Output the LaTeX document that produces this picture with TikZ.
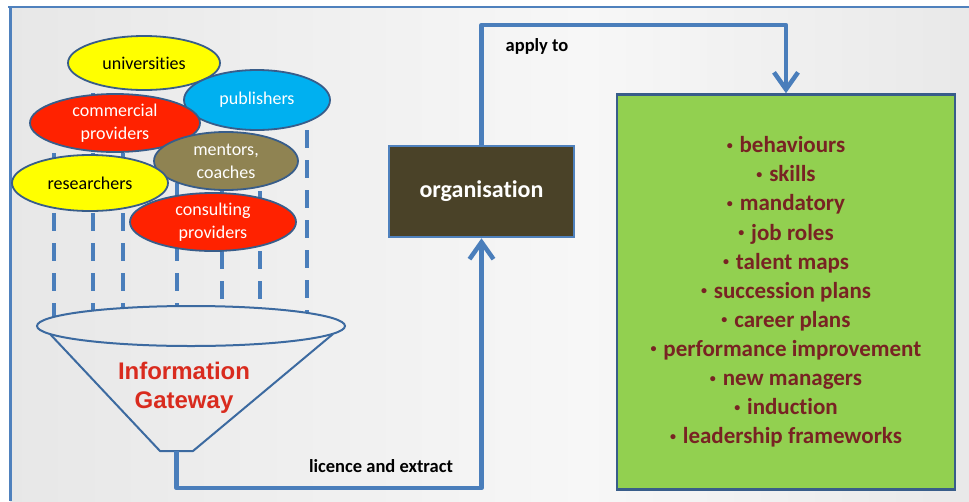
\documentclass[tikz,border=0pt]{standalone}
\usepackage{fontspec}
\setmainfont{Carlito}[Ligatures=NoCommon]
\newfontfamily\gatewayfont{Liberation Sans}
\usetikzlibrary{shapes.geometric,arrows.meta}

\definecolor{linkblue}{HTML}{4A7EBB}
\definecolor{rimblue}{HTML}{3C6AA0}
\definecolor{edgeblue}{HTML}{385D8A}
\definecolor{frameblue}{HTML}{4F81BD}
\definecolor{uniyellow}{HTML}{FFFF00}
\definecolor{pubblue}{HTML}{00B0F0}
\definecolor{provred}{HTML}{FF2200}
\definecolor{mentorolive}{HTML}{8F8352}
\definecolor{orgbrown}{HTML}{4A4228}
\definecolor{areagreen}{HTML}{92D050}
\definecolor{listred}{HTML}{782323}
\definecolor{gatewayred}{HTML}{D92B1E}
\definecolor{bgA}{HTML}{DADADA}
\definecolor{bgB}{HTML}{F7F7F7}
\definecolor{bgC}{HTML}{D7D7D7}

\pgfdeclarehorizontalshading{bgshade}{100bp}{color(0bp)=(bgA); color(55bp)=(bgB); color(100bp)=(bgC)}

% small raised list bullet
\newcommand{\itemdot}{\raisebox{3.5pt}{\fontsize{12}{12}\selectfont•}\hspace{0.3em}}

\tikzset{
  source/.style={ellipse, draw=edgeblue, line width=1.8pt, inner sep=0pt, align=center,
    font=\fontsize{18}{23}\selectfont},
  link/.style={draw=linkblue, line width=4.5pt, line join=round},
  tip/.style={-{Straight Barb[length=17pt,width=24pt]}},
  rain/.style={draw=linkblue, line width=3.5pt, dash pattern=on 18pt off 12pt},
  rimline/.style={draw=rimblue, line width=2pt},
  tag/.style={font=\bfseries\fontsize{18.5}{22}\selectfont, text=black},
}

\begin{document}
\begin{tikzpicture}[x=1pt,y=-1pt]
  \useasboundingbox (0,0) rectangle (969,501);
  % backdrop and frame
  \fill[white] (0,0) rectangle (969,501);
  \shade[shading=bgshade] (10,7) rectangle (969,501);
  \draw[frameblue, line width=2.5pt] (8,7) -- (969,7);
  \draw[frameblue, line width=3pt] (10,6) -- (10,501);

  % dashed streams falling into the funnel
  \draw[rain] (54,123) -- (54,316.9);
  \draw[rain] (93,63) -- (93,310.6);
  \draw[rain] (123,123) -- (123,308.1);
  \draw[rain] (177,123) -- (177,306.1);
  \draw[rain] (222,161) -- (222,306.4);
  \draw[rain] (260,161) -- (260,308.1);
  \draw[rain] (307,100) -- (307,312.8);

  % information sources
  \node[source, fill=uniyellow, text=black, minimum width=152pt, minimum height=54pt]
    (universities) at (144,63) {universities};
  \node[source, fill=pubblue, text=white, minimum width=146pt, minimum height=60pt]
    (publishers) at (257,100) {publishers};
  \node[source, fill=provred, text=white, minimum width=170pt, minimum height=58pt]
    (commercial) at (115,123) {commercial\\providers};
  \node[source, fill=mentorolive, text=white, minimum width=144pt, minimum height=58pt]
    (mentors) at (226,161) {mentors,\\coaches};
  \node[source, fill=uniyellow, text=black, minimum width=156pt, minimum height=56pt]
    (researchers) at (90,183) {researchers};
  \node[source, fill=provred, text=white, minimum width=166pt, minimum height=58pt]
    (consulting) at (213,222) {consulting\\providers};

  % funnel
  \draw[rimline, line join=round] (50,334) -- (160,451) -- (193,451) -- (333,334);
  \node[ellipse, rimline, inner sep=0pt, minimum width=308pt, minimum height=40pt]
    (rim) at (191,326) {};
  \node[text=gatewayred, font=\gatewayfont\bfseries\fontsize{24}{29}\selectfont, align=center]
    (gateway) at (184,388) {Information\\Gateway};
  \coordinate (spout) at (176.5,451);

  % organisation and areas of application
  \node[draw=frameblue, line width=2.5pt, fill=orgbrown, text=white,
    font=\bfseries\fontsize{24}{28}\selectfont,
    minimum width=185pt, minimum height=91pt, inner sep=0pt]
    (org) at (481.5,191.5) {organisation};
  \node[draw=edgeblue, line width=2.5pt, fill=areagreen, text=listred,
    font=\bfseries\fontsize{23}{29.1}\selectfont, align=center,
    minimum width=338pt, minimum height=395pt, inner sep=0pt]
    (areas) at (786,292) {\itemdot behaviours\\\itemdot skills\\\itemdot mandatory\\\itemdot job roles\\
      \itemdot talent maps\\\itemdot succession plans\\\itemdot career plans\\\itemdot performance improvement\\
      \itemdot new managers\\\itemdot induction\\\itemdot leadership frameworks};

  % connectors
  \coordinate (ridge) at (600,25);
  \coordinate (floor) at (300,488);
  \draw[link, tip] (spout) -- (spout |- floor) -- (org.south |- floor) -- (org.south);
  \draw[link, tip] (org.north) -- (org.north |- ridge) -- (areas.north |- ridge) -- (areas.north);

  \node[tag] (applylabel) at (537,46) {apply to};
  \node[tag] (extractlabel) at (381,466) {licence and extract};
\end{tikzpicture}
\end{document}
